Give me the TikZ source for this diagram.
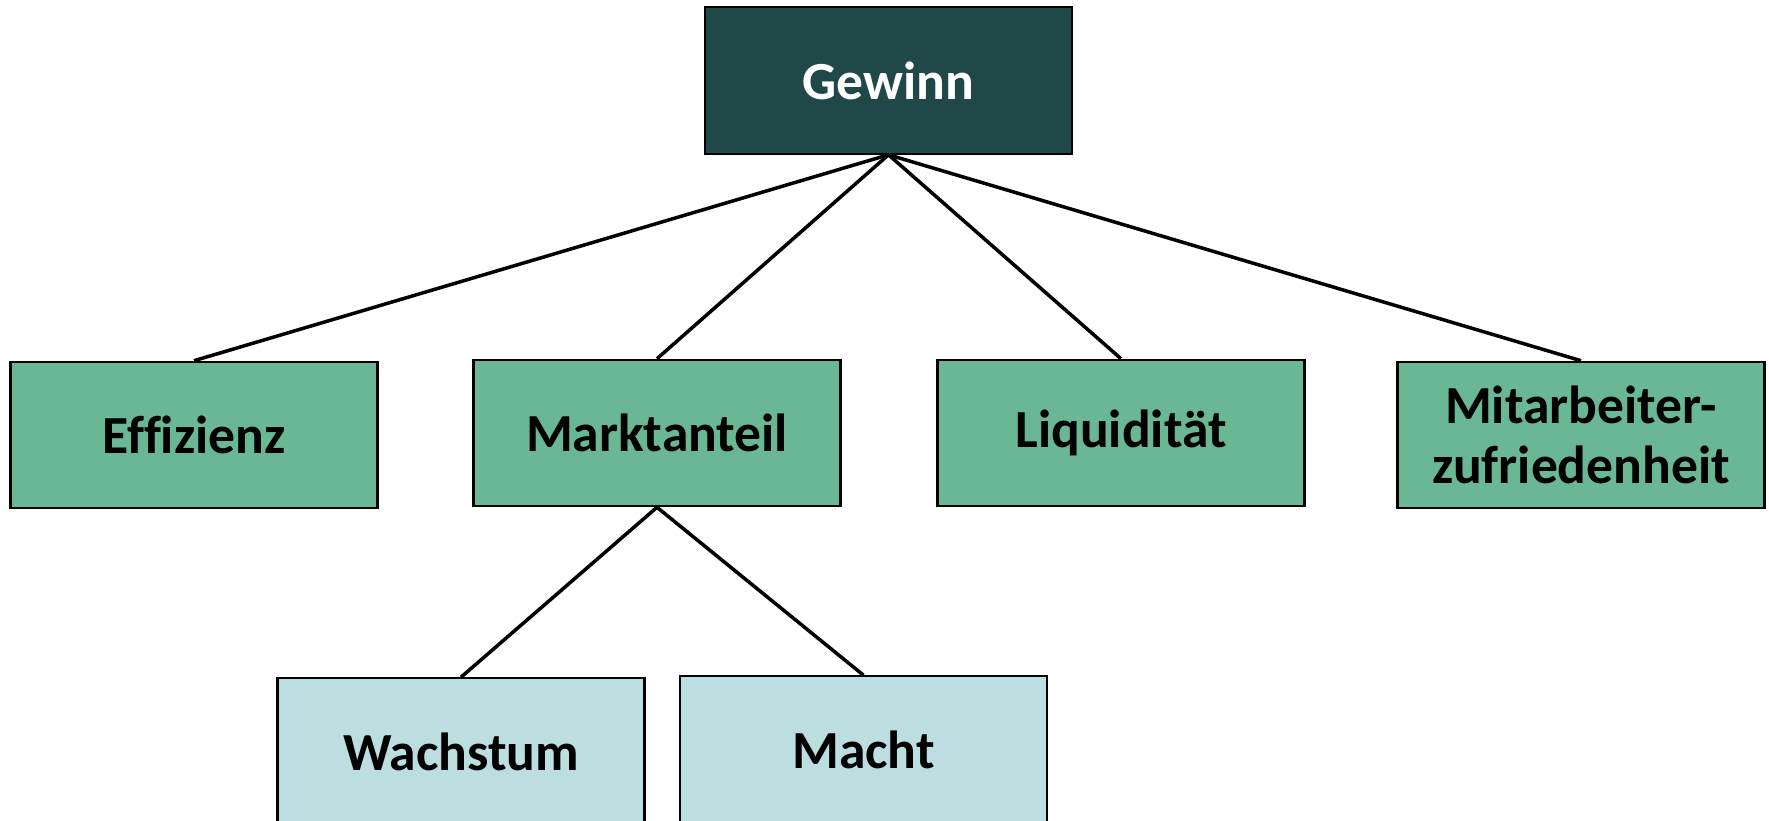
\documentclass[tikz,border=0pt]{standalone}
\usepackage{fontspec}
\setmainfont{Carlito}[Ligatures=CommonOff]
\usepackage{tikz}
\usetikzlibrary{positioning}
\definecolor{topbg}{HTML}{214849}
\definecolor{midbg}{HTML}{69B795}
\definecolor{lowbg}{HTML}{BCDEE1}

\begin{document}
\begin{tikzpicture}[
    x=0.02cm, y=-0.02cm,
    every node/.style={font=\fontsize{30.5}{34}\selectfont\bfseries},
    box/.style={rectangle, draw, line width=1.2pt, minimum width=7.34cm,
                minimum height=2.93cm, align=center, inner sep=0pt},
    link/.style={line width=2pt}
]
    \useasboundingbox (0,0) rectangle (1769,821);
    \node[box, fill=topbg, text=white] (gewinn) at (888.5,80.5) {Gewinn};
    \node[box, fill=midbg] (effizienz) at (194,435) {Effizienz};
    \node[box, fill=midbg] (markt) at (657,433) {Marktanteil};
    \node[box, fill=midbg] (liquid) at (1121,433) {Liquidität};
    \node[box, fill=midbg] (mitarb) at (1581,435) {Mitarbeiter-\\zufriedenheit};
    \node[box, fill=lowbg] (wachstum) at (461,751.5) {Wachstum};
    \node[box, fill=lowbg] (macht) at (863.5,749.5) {Macht};
    \draw[link] (gewinn.south) -- (effizienz.north);
    \draw[link] (gewinn.south) -- (markt.north);
    \draw[link] (gewinn.south) -- (liquid.north);
    \draw[link] (gewinn.south) -- (mitarb.north);
    \draw[link] (markt.south) -- (wachstum.north);
    \draw[link] (markt.south) -- (macht.north);
\end{tikzpicture}
\end{document}
